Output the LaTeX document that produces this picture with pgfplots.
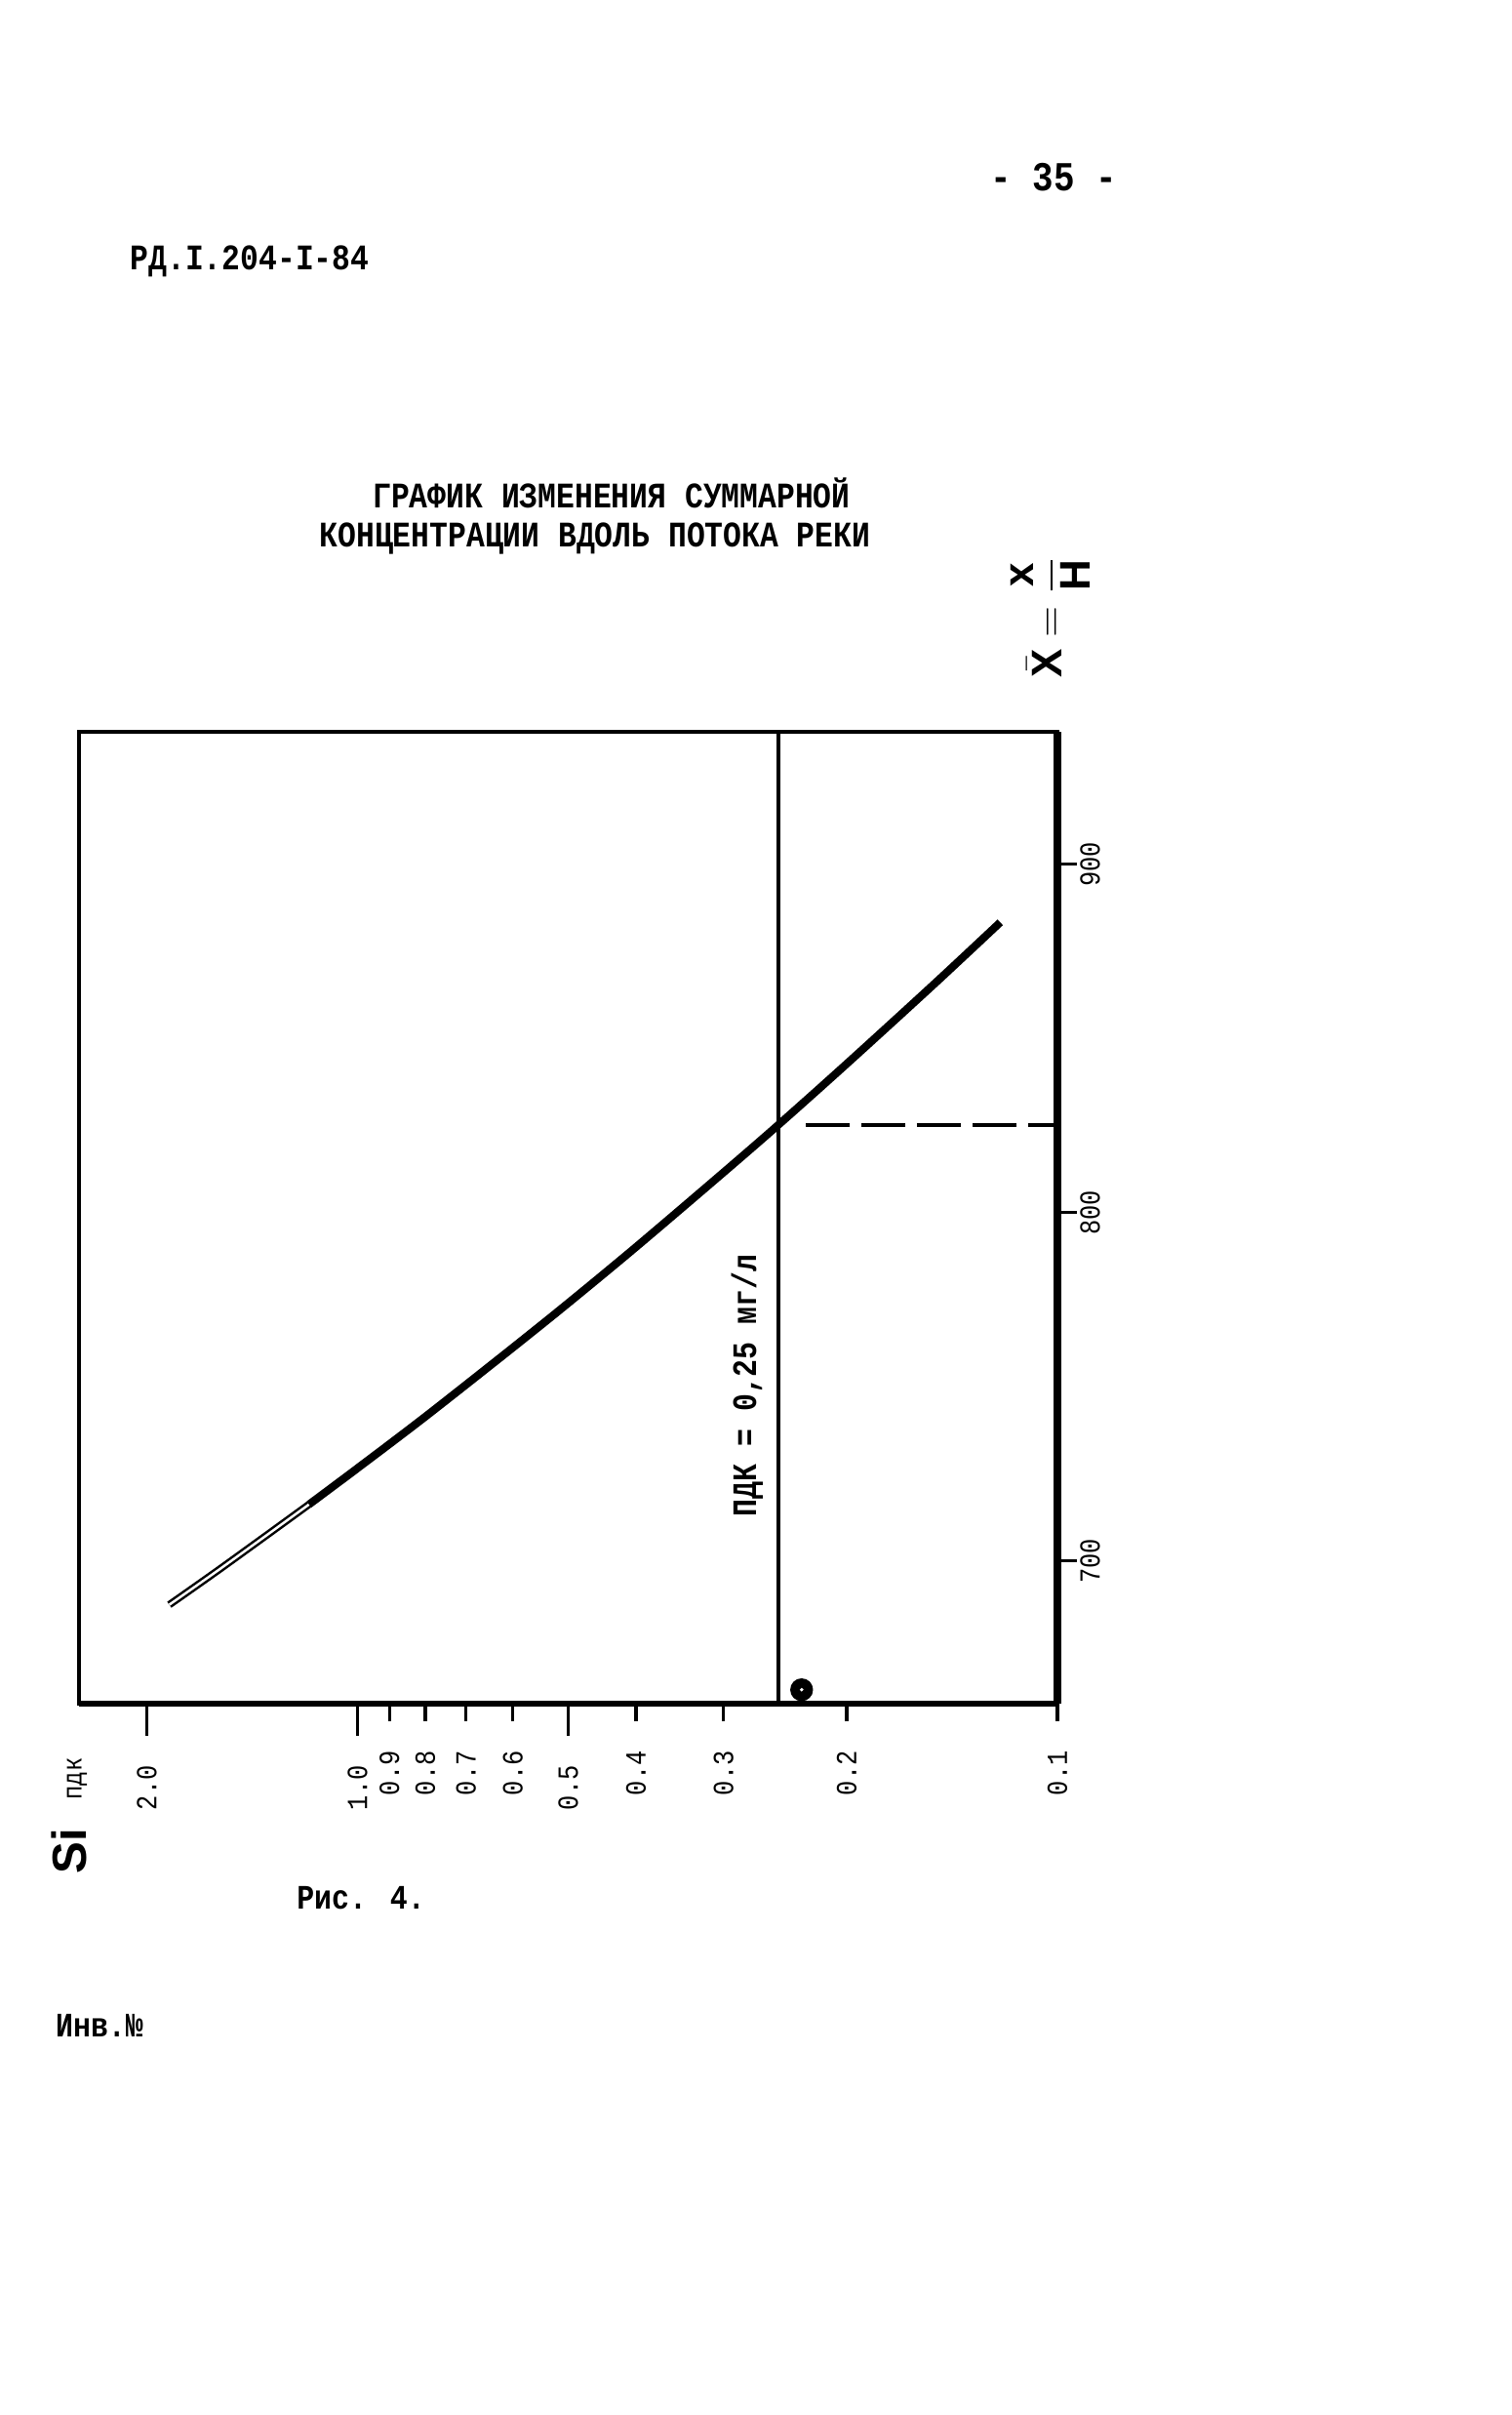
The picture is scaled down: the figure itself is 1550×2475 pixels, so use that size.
\documentclass[border=0pt]{standalone}
\usepackage{amsmath}
\usepackage{fontspec}
\setmainfont{Liberation Mono}[FakeStretch=0.85]
\setsansfont{Liberation Sans}
\usepackage{pgfplots}
\pgfplotsset{compat=1.18}

% curve: x = S_i/PDK (log), y = X = x/H
\pgfplotstableread{
s     X
1.858 687.4
1.559 698.2
1.173 716.2
}\thinpart
\pgfplotstableread{
s      X
1.173  716.2
1.0    726.6
0.8    741.4
0.6    761.2
0.5    774.0
0.4    790.1
0.3    811.5
0.25   825.3
0.2    842.7
0.15   865.6
0.1207 883.3
}\thickpart

\begin{document}
\begin{tikzpicture}[x=0.1mm,y=0.1mm]
\path[use as bounding box] (0,0) rectangle (1550,2475);

\begin{axis}[
  at={(8.1mm,72.9mm)}, anchor=south west,
  scale only axis, width=100.3mm, height=99.6mm,
  xmode=log, x dir=reverse, xmin=0.1, xmax=2.5,
  ymin=659, ymax=938,
  axis line style={line width=0.4mm},
  clip=false,
  xtick pos=bottom, ytick pos=right, tick align=outside,
  xminorticks=false,
  major tick length=3.3mm, minor tick length=1.4mm,
  every tick/.style={black, line width=0.35mm},
  xtick={2,1,0.5}, xticklabels={2.0,1.0,0.5},
  extra x ticks={0.9,0.8,0.7,0.6,0.4,0.3,0.2,0.1},
  extra x tick labels={0.9,0.8,0.7,0.6,0.4,0.3,0.2,0.1},
  extra x tick style={major tick length=1.8mm},
  xticklabel style={rotate=90, anchor=east, font=\fontsize{8.5}{9}\selectfont, xshift=-1.8mm},
  ytick=\empty,
  extra y ticks={700,800,900}, extra y tick labels={700,800,900},
  extra y tick style={major tick length=2.0mm},
  minor ytick={660,680,720,740,760,780,820,840,860,880,920},
  yticklabel style={rotate=90, anchor=north, inner sep=0.8pt, font=\fontsize{8.5}{9}\selectfont},
]
  % thick right and bottom axis lines
  \draw[line width=0.8mm] (axis description cs:1,0) -- (axis description cs:1,1);
  \draw[line width=0.6mm] (axis description cs:0,0) -- (axis description cs:1,0);

  % PDK line and its level on the X axis
  \addplot[black, line width=0.4mm] coordinates {(0.25,659) (0.25,938)};
  \addplot[black, line width=0.4mm, dash pattern=on 4.5mm off 1.2mm] coordinates {(0.229,825) (0.1,825)};

  % curve
  \addplot[black, line width=0.25mm, double=white, double distance=0.25mm, smooth] table[x=s, y=X] {\thinpart};
  \addplot[black, line width=0.8mm, smooth] table[x=s, y=X] {\thickpart};

  % blot on the axis
  \addplot[only marks, mark=*, mark size=1.1mm, black] coordinates {(0.232,663)};
  \addplot[only marks, mark=*, mark size=0.1mm, white] coordinates {(0.232,663)};
\end{axis}

% page texts
\node[font=\fontsize{10.5}{12}\selectfont\bfseries] at (256,2207) {РД.I.204-I-84};
\node[font=\fontsize{12}{14}\selectfont\bfseries] at (1080,2293) {- 35 -};
\node[font=\fontsize{10.5}{12}\selectfont\bfseries] at (627,1970) {ГРАФИК ИЗМЕНЕНИЯ СУММАРНОЙ};
\node[font=\fontsize{10.5}{12}\selectfont\bfseries] at (610,1923) {КОНЦЕНТРАЦИИ ВДОЛЬ ПОТОКА РЕКИ};
\node[rotate=90, font=\fontsize{10}{12}\selectfont\bfseries] at (766,1055) {ПДК = 0,25 мг/л};
\node[rotate=90, font=\fontsize{14}{16}\selectfont\sffamily\bfseries] at (71,578) {Si};
\node[rotate=90, font=\fontsize{8}{9}\selectfont] at (79,652) {пдк};
\node[rotate=90, font=\fontsize{12.5}{14}\selectfont\sffamily\bfseries] at (1077,1843)
  {$\bar{\textsf{\textbf{X}}} = \dfrac{\textsf{\textbf{x}}}{\textsf{\textbf{H}}}$};
\node[font=\fontsize{10}{12}\selectfont\bfseries] at (370,530) {Рис. 4.};
\node[font=\fontsize{10}{12}\selectfont\bfseries] at (102,399) {Инв.№};
\end{tikzpicture}
\end{document}
